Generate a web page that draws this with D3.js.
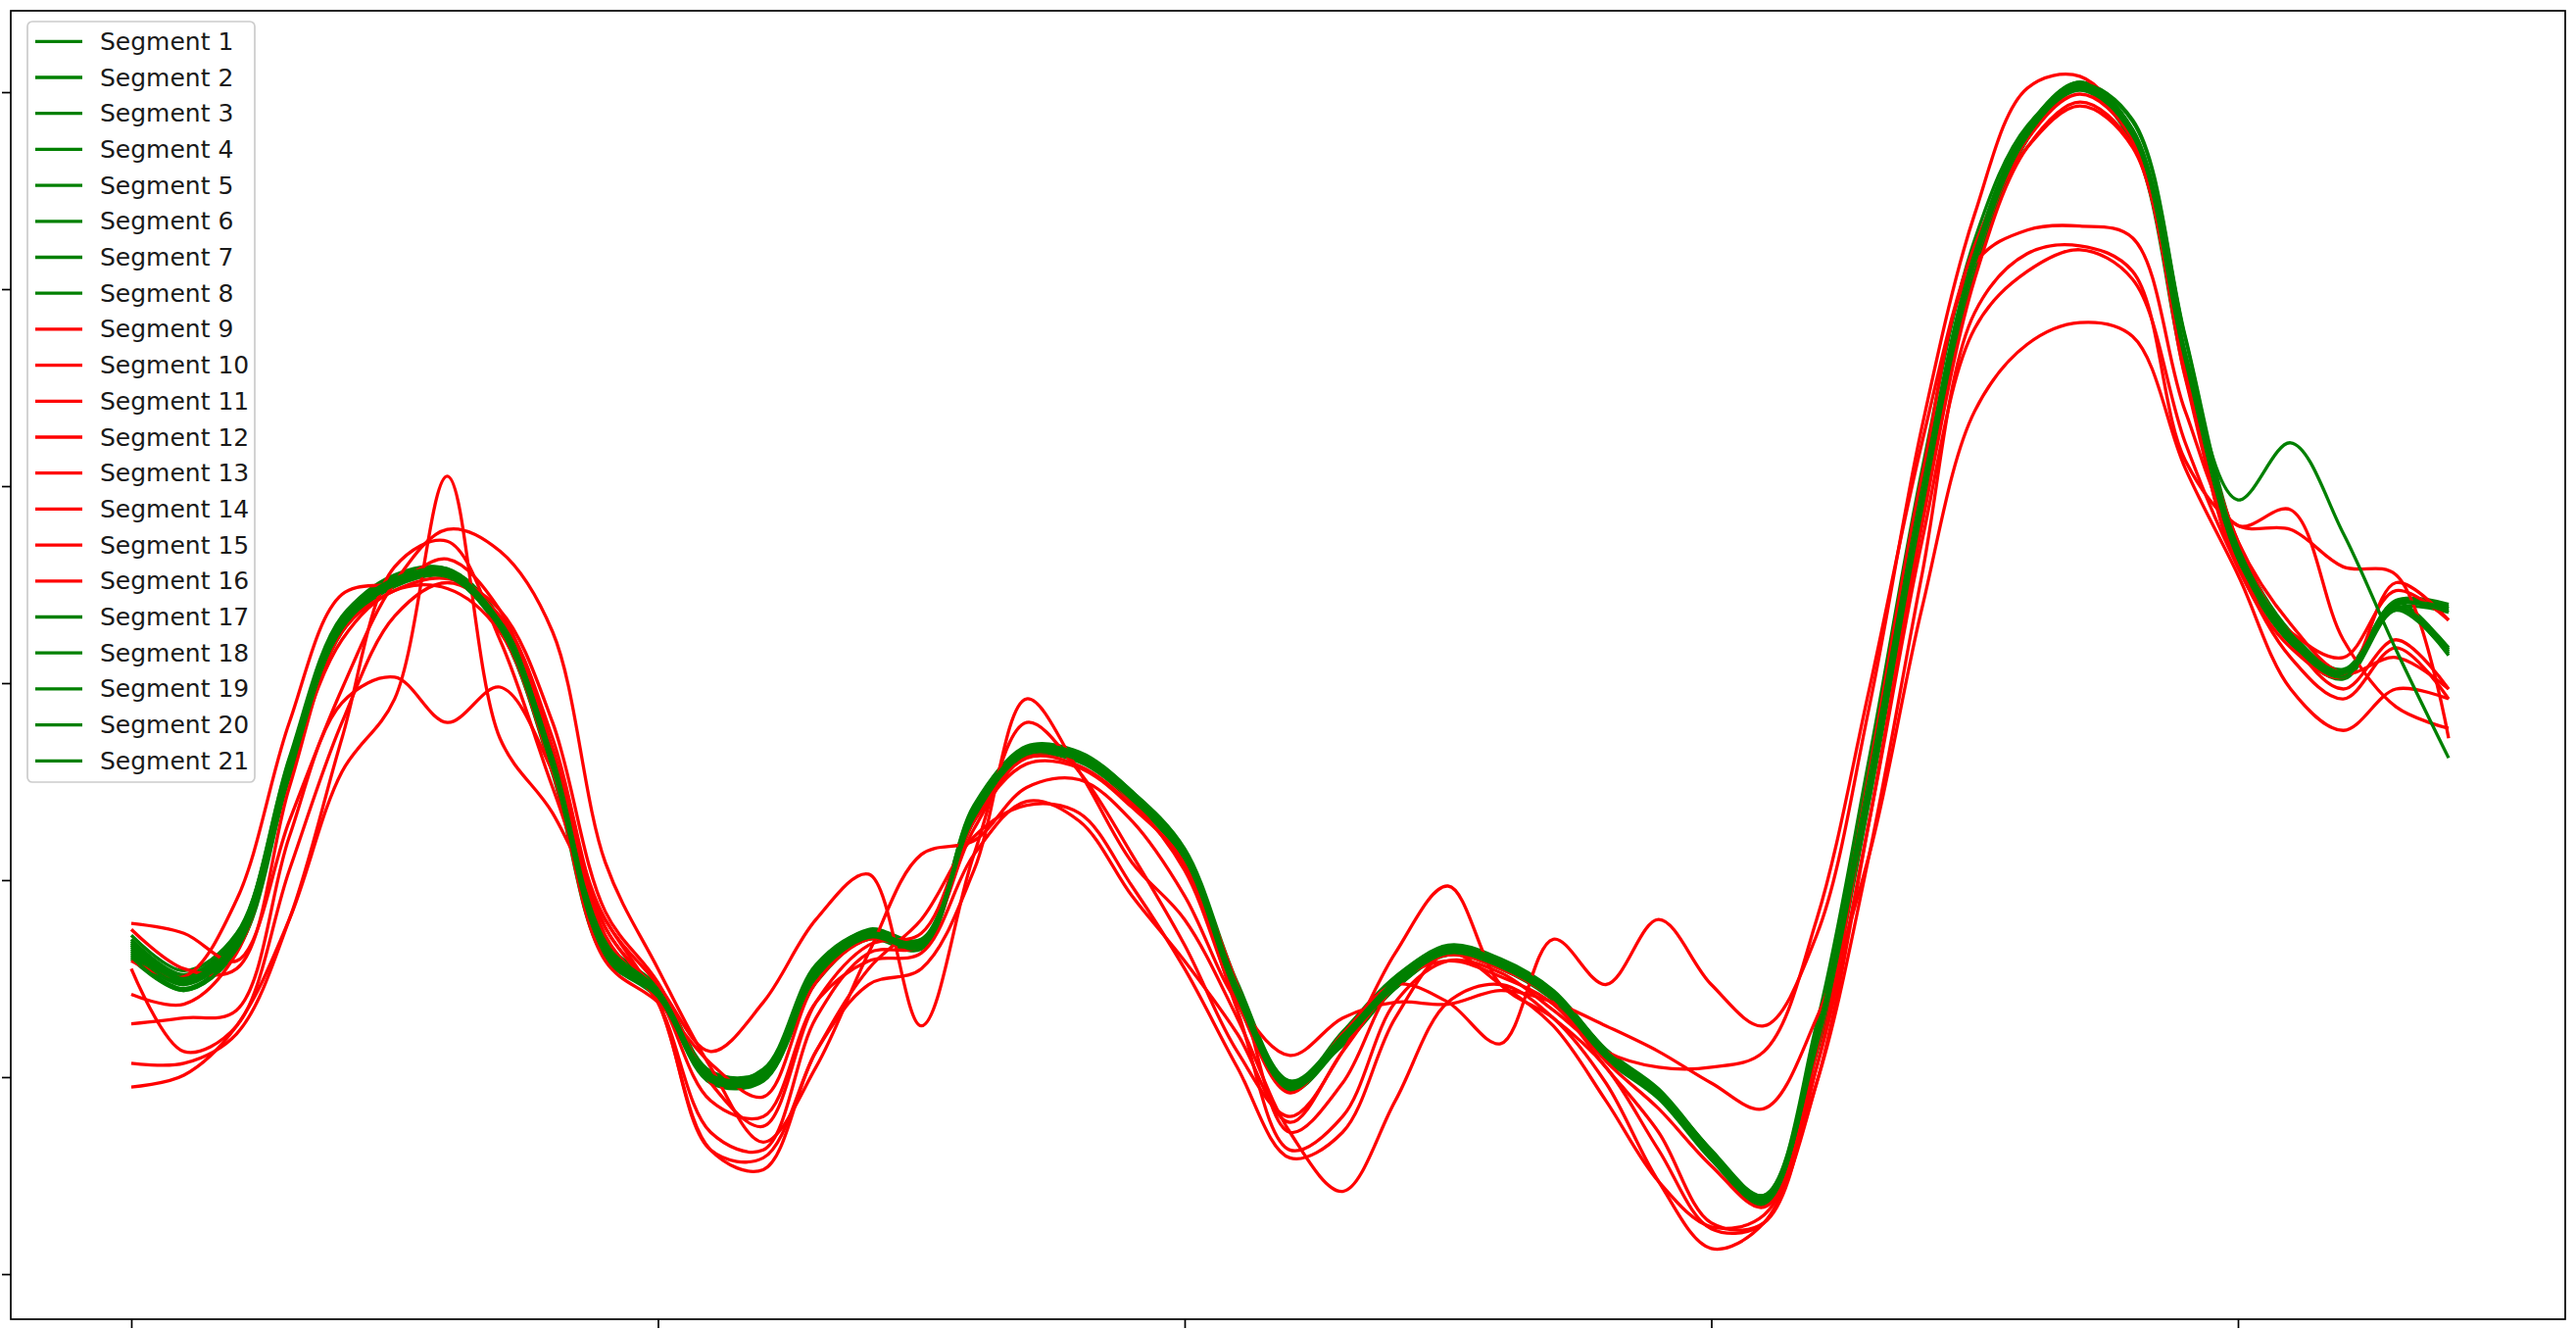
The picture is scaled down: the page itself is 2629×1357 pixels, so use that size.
<!DOCTYPE html>
<html><head><meta charset="utf-8">
<script src="https://cdn.jsdelivr.net/npm/d3@7"></script>
<style>html,body{margin:0;padding:0;background:#fff;overflow:hidden}svg{display:block}</style>
</head><body>
<script>
const W = 2629, H = 1357;

// sample positions (shared by all segments)
const xs = [0,5,10,15,20,25,30,35,40,45,50,55,60,65,70,75,80,85,90,95,100,105,110,115,120,125,130,135,140,145,150,155,160,165,170,175,180,185,190,195,200,205,210,215,220];

const seg1  = [-1.35,-1.52,-1.32,-0.43,0.30,0.52,0.56,0.30,-0.41,-1.35,-1.57,-2.00,-1.99,-1.47,-1.27,-1.32,-0.66,-0.34,-0.37,-0.57,-0.87,-1.57,-2.04,-1.80,-1.52,-1.35,-1.42,-1.58,-1.88,-2.08,-2.39,-2.62,-1.80,-0.49,0.97,2.17,2.80,3.04,2.80,1.66,0.66,0.23,0.05,0.40,0.37];
const seg2  = [-1.30,-1.48,-1.28,-0.40,0.33,0.55,0.58,0.33,-0.37,-1.31,-1.54,-1.97,-1.97,-1.45,-1.25,-1.30,-0.63,-0.32,-0.35,-0.55,-0.85,-1.54,-2.02,-1.79,-1.50,-1.33,-1.40,-1.56,-1.86,-2.06,-2.37,-2.60,-1.78,-0.46,0.99,2.19,2.82,3.05,2.81,1.68,0.68,0.25,0.07,0.42,0.40];
const seg3  = [-1.40,-1.56,-1.36,-0.47,0.27,0.49,0.54,0.27,-0.45,-1.39,-1.60,-2.03,-2.02,-1.50,-1.30,-1.35,-0.69,-0.37,-0.40,-0.60,-0.90,-1.60,-2.07,-1.83,-1.55,-1.38,-1.45,-1.61,-1.91,-2.11,-2.42,-2.65,-1.84,-0.53,0.94,2.14,2.77,3.01,2.75,1.58,0.62,0.20,0.02,0.37,0.15];
const seg4  = [-1.33,-1.50,-1.35,-0.48,0.26,0.50,0.56,0.33,-0.36,-1.30,-1.55,-1.98,-2.01,-1.52,-1.29,-1.31,-0.70,-0.36,-0.36,-0.55,-0.84,-1.52,-2.02,-1.84,-1.55,-1.37,-1.41,-1.57,-1.86,-2.07,-2.37,-2.63,-1.88,-0.60,0.86,2.08,2.76,3.04,2.86,1.76,0.71,0.26,0.06,0.38,0.36];
const seg5  = [-1.37,-1.53,-1.29,-0.38,0.34,0.53,0.55,0.27,-0.46,-1.40,-1.58,-2.01,-1.96,-1.43,-1.26,-1.33,-0.62,-0.33,-0.38,-0.59,-0.90,-1.62,-2.05,-1.77,-1.49,-1.34,-1.43,-1.60,-1.90,-2.09,-2.41,-2.60,-1.73,-0.38,1.08,2.25,2.83,3.02,2.74,1.56,0.62,0.21,0.06,0.41,0.17];
const seg6  = [-1.32,-1.49,-1.30,-0.42,0.31,0.54,0.58,0.32,-0.40,-1.34,-1.55,-1.98,-1.98,-1.46,-1.26,-1.31,-0.65,-0.33,-0.36,-0.56,-0.86,-1.56,-2.03,-1.79,-1.51,-1.34,-1.41,-1.57,-1.87,-2.07,-2.38,-2.61,-1.79,-0.48,0.98,2.18,2.81,3.05,2.81,1.67,0.67,0.24,0.06,0.41,0.38];
const seg7  = [-1.38,-1.55,-1.34,-0.45,0.29,0.51,0.55,0.29,-0.42,-1.36,-1.58,-2.01,-2.00,-1.48,-1.28,-1.33,-0.67,-0.35,-0.38,-0.58,-0.88,-1.58,-2.05,-1.81,-1.53,-1.36,-1.43,-1.59,-1.89,-2.09,-2.40,-2.63,-1.81,-0.50,0.96,2.16,2.79,3.03,2.79,1.65,0.65,0.22,0.04,0.39,0.16];
const seg8  = [-1.28,-1.46,-1.27,-0.39,0.32,0.53,0.57,0.31,-0.39,-1.33,-1.56,-1.99,-1.98,-1.46,-1.27,-1.31,-0.65,-0.34,-0.37,-0.57,-0.87,-1.56,-2.03,-1.80,-1.52,-1.35,-1.42,-1.58,-1.88,-2.08,-2.38,-2.61,-1.80,-0.49,0.97,2.17,2.80,3.03,2.80,1.66,0.66,0.24,0.06,0.41,0.39];
const seg9  = [-1.22,-1.27,-1.41,-0.70,-0.03,0.51,0.78,0.67,0.26,-0.91,-1.45,-1.95,-2.33,-1.95,-1.37,-0.87,-0.80,-0.53,-0.49,-0.70,-1.08,-1.62,-1.89,-1.70,-1.62,-1.63,-1.56,-1.62,-1.74,-1.87,-2.03,-2.16,-1.70,-0.87,0.38,1.38,1.72,1.83,1.76,1.09,0.55,-0.03,-0.24,-0.03,-0.08];
const seg10 = [-2.05,-1.99,-1.74,-1.20,-0.45,-0.08,1.05,-0.28,-0.66,-1.20,-1.62,-2.37,-2.47,-1.87,-1.53,-1.45,-0.95,-0.08,-0.45,-0.91,-1.20,-1.70,-2.28,-2.58,-2.12,-1.62,-1.53,-1.70,-2.03,-2.53,-2.87,-2.74,-2.03,-0.70,0.80,2.05,2.72,2.95,2.73,1.59,0.59,0.26,0.13,0.47,0.32];
const seg11 = [-1.73,-1.70,-1.66,-0.78,-0.10,0.03,-0.20,-0.02,-0.45,-1.20,-1.53,-1.87,-1.62,-1.20,-0.97,-1.74,-0.87,-0.20,-0.45,-0.87,-1.33,-1.87,-2.20,-1.87,-1.37,-1.03,-1.53,-1.70,-1.95,-2.37,-2.77,-2.74,-1.87,-0.45,1.05,2.13,2.30,2.32,2.26,1.38,0.80,0.88,0.22,-0.12,-0.23];
const seg12 = [-1.41,-1.49,-1.10,-0.20,0.45,0.51,0.63,0.37,-0.33,-1.28,-1.62,-2.28,-2.37,-1.70,-1.37,-1.33,-0.74,-0.37,-0.38,-0.60,-0.95,-1.62,-2.08,-1.78,-1.53,-1.62,-1.83,-1.30,-1.53,-1.20,-1.53,-1.74,-1.28,-0.12,1.30,2.38,3.02,3.08,2.76,1.63,0.72,0.30,0.05,0.13,-0.03];
const seg13 = [-1.93,-1.93,-1.78,-1.20,-0.28,0.59,0.72,0.22,-0.53,-1.24,-1.62,-2.37,-2.41,-1.87,-1.45,-1.20,-0.78,-0.62,-0.66,-1.03,-1.45,-1.95,-2.41,-2.28,-1.70,-1.37,-1.53,-1.74,-2.12,-2.53,-2.76,-2.70,-2.03,-0.87,0.55,1.88,2.18,2.22,2.09,1.13,0.80,0.78,0.59,0.55,-0.28];
const seg14 = [-1.25,-1.45,-1.45,-0.53,0.26,0.47,0.53,0.37,-0.20,-1.16,-1.52,-2.03,-2.25,-1.62,-1.33,-1.27,-0.70,-0.41,-0.43,-0.63,-0.91,-1.53,-2.28,-2.03,-1.53,-1.41,-1.49,-1.63,-1.95,-2.28,-2.74,-2.74,-1.95,-0.53,0.93,2.13,2.76,2.99,2.76,1.55,0.59,0.18,0.03,0.51,0.32];
const seg15 = [-1.45,-1.87,-1.74,-0.95,-0.20,0.34,0.51,0.34,-0.28,-1.24,-1.58,-2.12,-2.20,-1.62,-1.41,-1.37,-0.87,-0.60,-0.70,-1.08,-1.41,-1.78,-2.23,-1.87,-1.53,-1.38,-1.45,-1.60,-1.92,-2.16,-2.45,-2.66,-1.95,-0.70,0.72,1.80,2.09,2.20,2.05,1.22,0.59,0.13,-0.08,0.18,-0.08];
const seg16 = [-1.58,-1.63,-1.37,-0.45,0.22,0.47,0.48,0.26,-0.45,-1.41,-1.62,-1.93,-2.10,-1.52,-1.30,-1.33,-0.70,-0.38,-0.42,-0.62,-0.93,-1.66,-2.37,-2.20,-1.62,-1.41,-1.47,-1.66,-1.87,-1.95,-1.95,-1.87,-1.20,-0.03,1.22,2.22,2.72,2.93,2.72,1.59,0.72,0.22,-0.03,0.22,-0.03];
const seg17 = [-1.36,-1.53,-1.33,-0.44,0.29,0.52,0.56,0.30,-0.41,-1.35,-1.57,-2.00,-1.99,-1.47,-1.28,-1.32,-0.66,-0.34,-0.37,-0.57,-0.87,-1.57,-2.04,-1.80,-1.52,-1.35,-1.42,-1.58,-1.88,-2.08,-2.39,-2.62,-1.80,-0.49,0.97,2.17,2.80,3.04,2.80,1.66,0.66,0.23,0.05,0.40,0.36];
const seg18 = [-1.31,-1.50,-1.31,-0.44,0.28,0.50,0.55,0.31,-0.38,-1.32,-1.56,-2.00,-2.00,-1.49,-1.28,-1.31,-0.67,-0.35,-0.36,-0.56,-0.85,-1.54,-2.03,-1.82,-1.53,-1.36,-1.42,-1.58,-1.87,-2.08,-2.38,-2.63,-1.84,-0.55,0.91,2.13,2.78,3.04,2.85,1.75,0.69,0.25,0.06,0.39,0.18];
const seg19 = [-1.34,-1.51,-1.31,-0.42,0.31,0.53,0.57,0.31,-0.40,-1.34,-1.56,-1.99,-1.98,-1.46,-1.27,-1.32,-0.65,-0.33,-0.36,-0.56,-0.86,-1.56,-2.03,-1.79,-1.51,-1.34,-1.41,-1.57,-1.87,-2.07,-2.38,-2.61,-1.79,-0.48,0.98,2.18,2.81,3.04,2.80,1.66,0.66,0.23,0.05,0.40,0.38];
const seg20 = [-1.39,-1.56,-1.35,-0.46,0.28,0.50,0.54,0.28,-0.43,-1.37,-1.59,-2.02,-2.01,-1.49,-1.29,-1.34,-0.68,-0.36,-0.39,-0.59,-0.89,-1.59,-2.06,-1.82,-1.54,-1.37,-1.44,-1.60,-1.90,-2.10,-2.41,-2.64,-1.82,-0.51,0.95,2.15,2.78,3.02,2.78,1.64,0.64,0.21,0.03,0.38,0.14];
const seg21 = [-1.33,-1.51,-1.33,-0.45,0.29,0.51,0.55,0.29,-0.42,-1.36,-1.58,-2.01,-2.00,-1.48,-1.28,-1.33,-0.67,-0.35,-0.38,-0.58,-0.88,-1.58,-2.05,-1.81,-1.53,-1.36,-1.43,-1.59,-1.89,-2.09,-2.40,-2.63,-1.81,-0.50,0.96,2.16,2.79,3.03,2.79,1.66,0.93,1.22,0.76,0.17,-0.38];

const segmentLabels = ["Segment 1","Segment 2","Segment 3","Segment 4","Segment 5","Segment 6","Segment 7","Segment 8","Segment 9","Segment 10","Segment 11","Segment 12","Segment 13","Segment 14","Segment 15","Segment 16","Segment 17","Segment 18","Segment 19","Segment 20","Segment 21"];
const anomalousSegments = [9,10,11,12,13,14,15,16];
const xTickValues = [0,50,100,150,200];
const yTickValues = [-3,-2,-1,0,1,2,3];

const segments = [seg1,seg2,seg3,seg4,seg5,seg6,seg7,seg8,seg9,seg10,seg11,seg12,seg13,seg14,seg15,seg16,seg17,seg18,seg19,seg20,seg21];

const plot = {left: 11, right: 2618, top: 11, bottom: 1346};
const x = d3.scaleLinear().domain([-11.44, 231.07]).range([plot.left, plot.right]);
const y = d3.scaleLinear().domain([-3.229, 3.413]).range([plot.bottom, plot.top]);
const colorOf = i => anomalousSegments.includes(i + 1) ? "#ff0000" : "#008000";

const svg = d3.select("body").append("svg").attr("width", W).attr("height", H);
svg.append("defs").append("clipPath").attr("id", "clip")
  .append("rect").attr("x", plot.left).attr("y", plot.top)
  .attr("width", plot.right - plot.left).attr("height", plot.bottom - plot.top);

const line = d3.line().x((d, i) => x(xs[i])).y(d => y(d)).curve(d3.curveCatmullRom.alpha(0.5));

svg.append("g").attr("clip-path", "url(#clip)")
  .selectAll("path").data(segments).join("path")
  .attr("d", d => line(d))
  .attr("fill", "none")
  .attr("stroke", (d, i) => colorOf(i))
  .attr("stroke-width", 3.3)
  .attr("stroke-linejoin", "round")
  .attr("stroke-linecap", "butt");

// axes: tick marks only (the tick labels are cropped away in the original picture)
const yAxis = svg.append("g").attr("transform", `translate(${plot.left},0)`)
  .call(d3.axisLeft(y).tickValues(yTickValues).tickSize(9).tickFormat(() => ""));
const xAxis = svg.append("g").attr("transform", `translate(0,${plot.bottom})`)
  .call(d3.axisBottom(x).tickValues(xTickValues).tickSize(9).tickFormat(() => ""));
[yAxis, xAxis].forEach(g => {
  g.select(".domain").remove();
  g.selectAll(".tick text").remove();
  g.selectAll(".tick line").attr("stroke", "#000").attr("stroke-width", 1.7);
});

// frame
svg.append("rect").attr("x", plot.left).attr("y", plot.top)
  .attr("width", plot.right - plot.left).attr("height", plot.bottom - plot.top)
  .attr("fill", "none").attr("stroke", "#000").attr("stroke-width", 1.7);

// legend
const lg = svg.append("g");
lg.append("rect").attr("x", 28).attr("y", 22).attr("width", 232).attr("height", 776)
  .attr("rx", 5).attr("fill", "#fff").attr("fill-opacity", 0.8)
  .attr("stroke", "#cccccc").attr("stroke-width", 1.7);
const rows = lg.selectAll("g.row").data(segmentLabels).join("g")
  .attr("transform", (d, i) => `translate(0,${42.3 + i * 36.7})`);
rows.append("line").attr("x1", 36).attr("x2", 84).attr("y1", 0).attr("y2", 0)
  .attr("stroke", (d, i) => colorOf(i)).attr("stroke-width", 3.3);
rows.append("text").attr("x", 102).attr("y", 0).attr("dominant-baseline", "central")
  .attr("font-family", "DejaVu Sans").attr("font-size", 25).attr("fill", "#1a1a1a")
  .text(d => d);
</script>
</body></html>
